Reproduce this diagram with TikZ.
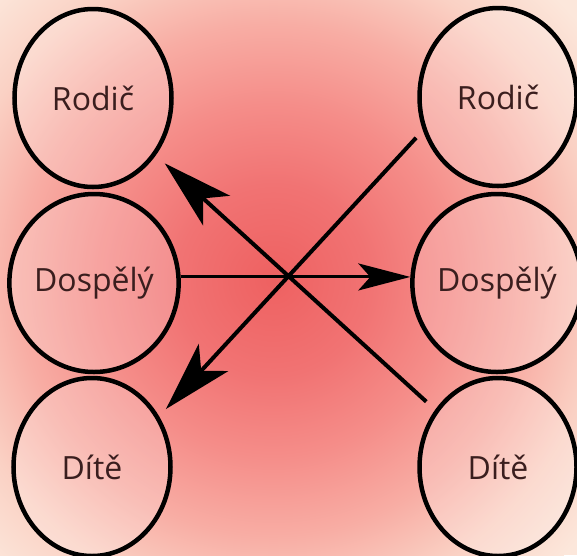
\documentclass[tikz,border=0pt]{standalone}
\usepackage{fontspec}
\setmainfont{Open Sans}
\usetikzlibrary{arrows.meta,shapes.geometric}
\definecolor{ink}{HTML}{3A1E1E}
\definecolor{paper}{HTML}{FCE7DB}
\definecolor{washA}{HTML}{EE6161}
\definecolor{washB}{HTML}{F17373}
\definecolor{washC}{HTML}{F58D89}
\definecolor{washD}{HTML}{F8ADA4}
\definecolor{washE}{HTML}{FAD1C4}
\pgfdeclareradialshading{wash}{\pgfpoint{0bp}{0bp}}{color(0bp)=(washA); color(6bp)=(washB); color(11bp)=(washC); color(16bp)=(washD); color(20.5bp)=(washE); color(25bp)=(paper)}
\begin{document}
\begin{tikzpicture}[x=1pt,y=-1pt,
    role/.style={ellipse,draw=black,line width=4.5pt,fill=white,fill opacity=0.2,text opacity=1,
        minimum width=157pt,minimum height=178pt,inner sep=0pt,text=ink,font=\fontsize{32}{38}\selectfont},
    bigtip/.style={line width=4pt,-{Stealth[length=70pt,width=40pt,inset=18pt]}},
    smalltip/.style={line width=3pt,-{Stealth[length=52pt,width=27pt,inset=12pt]}}]
    \useasboundingbox (0,0) rectangle (577,555);
    \fill[paper] (0,0) rectangle (577,555);
    \shade[shading=wash] (-127,-120) rectangle (673,680);
    \node[role] (lrodic) at (93,98) {Rodič};
    \node[role] (ldospely) at (94,283) {Dospělý};
    \node[role] (ldite) at (92,467) {Dítě};
    \node[role] (rrodic) at (498,97) {Rodič};
    \node[role] (rdospely) at (497,283) {Dospělý};
    \node[role] (rdite) at (498,467) {Dítě};
    \draw[smalltip] (ldospely.4) -- (rdospely.176);
    \draw[bigtip,shorten <=12pt,shorten >=12pt] (rdite) -- (lrodic);
    \draw[bigtip,shorten <=10pt,shorten >=10pt] (rrodic.204) -- (ldite.37);
\end{tikzpicture}
\end{document}
